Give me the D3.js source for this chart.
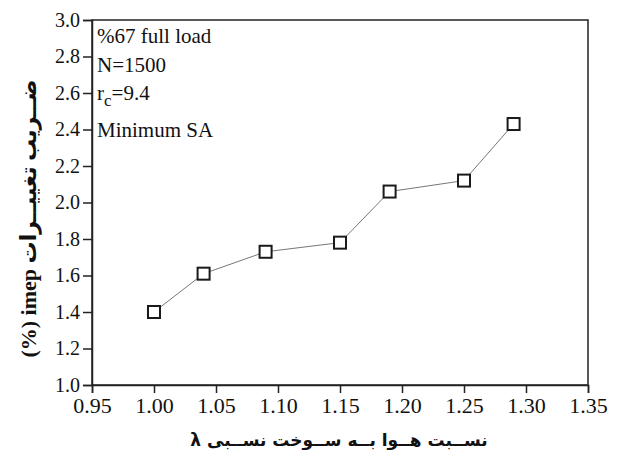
<!DOCTYPE html>
<html>
<head>
<meta charset="utf-8">
<script src="https://cdn.jsdelivr.net/npm/d3@7"></script>
<style>
body { margin: 0; background: #fff; }
</style>
</head>
<body>
<script>
const lambda = [1.00, 1.04, 1.09, 1.15, 1.19, 1.25, 1.29]
const cov = [1.40, 1.61, 1.73, 1.78, 2.06, 2.12, 2.43]
const xTicks = [0.95, 1.00, 1.05, 1.10, 1.15, 1.20, 1.25, 1.30, 1.35]
const yTicks = [1.0, 1.2, 1.4, 1.6, 1.8, 2.0, 2.2, 2.4, 2.6, 2.8, 3.0]
const notes = ["%67 full load", "N=1500", "rc=9.4", "Minimum SA"]

const W = 620, H = 474
const plotL = 92, plotR = 588, plotT = 20, plotB = 385
const serif = "'Liberation Serif', 'Times New Roman', serif"

const svg = d3.select("body").append("svg")
    .attr("width", W)
    .attr("height", H)

const x = d3.scaleLinear().domain([0.95, 1.35]).range([plotL, plotR])
const y = d3.scaleLinear().domain([1.0, 3.0]).range([plotB, plotT])

// frame
svg.append("rect")
    .attr("x", plotL).attr("y", plotT)
    .attr("width", plotR - plotL).attr("height", plotB - plotT)
    .attr("fill", "none").attr("stroke", "#222").attr("stroke-width", 1.5)

const xAxis = svg.append("g")
    .attr("transform", `translate(0,${plotB})`)
    .call(d3.axisBottom(x).tickValues(xTicks).tickFormat(d3.format(".2f")).tickSize(8).tickPadding(4))
const yAxis = svg.append("g")
    .attr("transform", `translate(${plotL},0)`)
    .call(d3.axisLeft(y).tickValues(yTicks).tickFormat(d3.format(".1f")).tickSize(9).tickPadding(3))

;[xAxis, yAxis].forEach(g => {
    g.select(".domain").attr("stroke", "#222").attr("stroke-width", 1.5)
    g.selectAll(".tick line").attr("stroke", "#222").attr("stroke-width", 1.5)
    g.selectAll(".tick text")
        .style("font-family", serif)
        .attr("fill", "#111")
})
xAxis.selectAll(".tick text").style("font-size", "22px")
yAxis.selectAll(".tick text").style("font-size", "20px")

// line + markers
const pts = lambda.map((d, i) => ({ x: d, y: cov[i] }))
svg.append("path")
    .datum(pts)
    .attr("fill", "none")
    .attr("stroke", "#777")
    .attr("stroke-width", 1)
    .attr("d", d3.line().x(d => x(d.x)).y(d => y(d.y)))

const s = 12
svg.selectAll("rect.pt")
    .data(pts)
    .enter()
    .append("rect")
    .attr("class", "pt")
    .attr("x", d => x(d.x) - s / 2)
    .attr("y", d => y(d.y) - s / 2)
    .attr("width", s).attr("height", s)
    .attr("fill", "#fff")
    .attr("stroke", "#1a1a1a")
    .attr("stroke-width", 2)

// annotations
const note = svg.append("g")
    .style("font-family", serif)
    .style("font-size", "21px")
    .attr("fill", "#111")
note.append("text").attr("x", 97).attr("y", 43).text(notes[0])
note.append("text").attr("x", 97).attr("y", 72).text(notes[1])
const rc = note.append("text").attr("x", 97).attr("y", 100)
rc.append("tspan").text("r")
rc.append("tspan").style("font-size", "17px").attr("dy", 6).text("c")
rc.append("tspan").attr("dy", -6).text("=9.4")
note.append("text").attr("x", 97).attr("y", 137).text(notes[3])

// axis titles
svg.append("text")
    .attr("x", 339).attr("y", 446)
    .attr("text-anchor", "middle")
    .attr("direction", "rtl")
    .attr("font-weight", "bold")
    .attr("fill", "#111")
    .style("font-size", "17px")
    .style("font-family", "'DejaVu Sans', sans-serif")
    .text("نســبت هــوا بــه ســوخت نســبی λ")

svg.append("text")
    .attr("transform", `translate(36,${(plotT + plotB) / 2 + 16}) rotate(-90)`)
    .attr("text-anchor", "middle")
    .attr("direction", "rtl")
    .attr("font-weight", "bold")
    .attr("fill", "#111")
    .style("font-size", "22px")
    .style("font-family", "'Liberation Serif', 'DejaVu Sans', serif")
    .text("ضــریب تغییــرات imep (%)")
</script>
</body>
</html>
